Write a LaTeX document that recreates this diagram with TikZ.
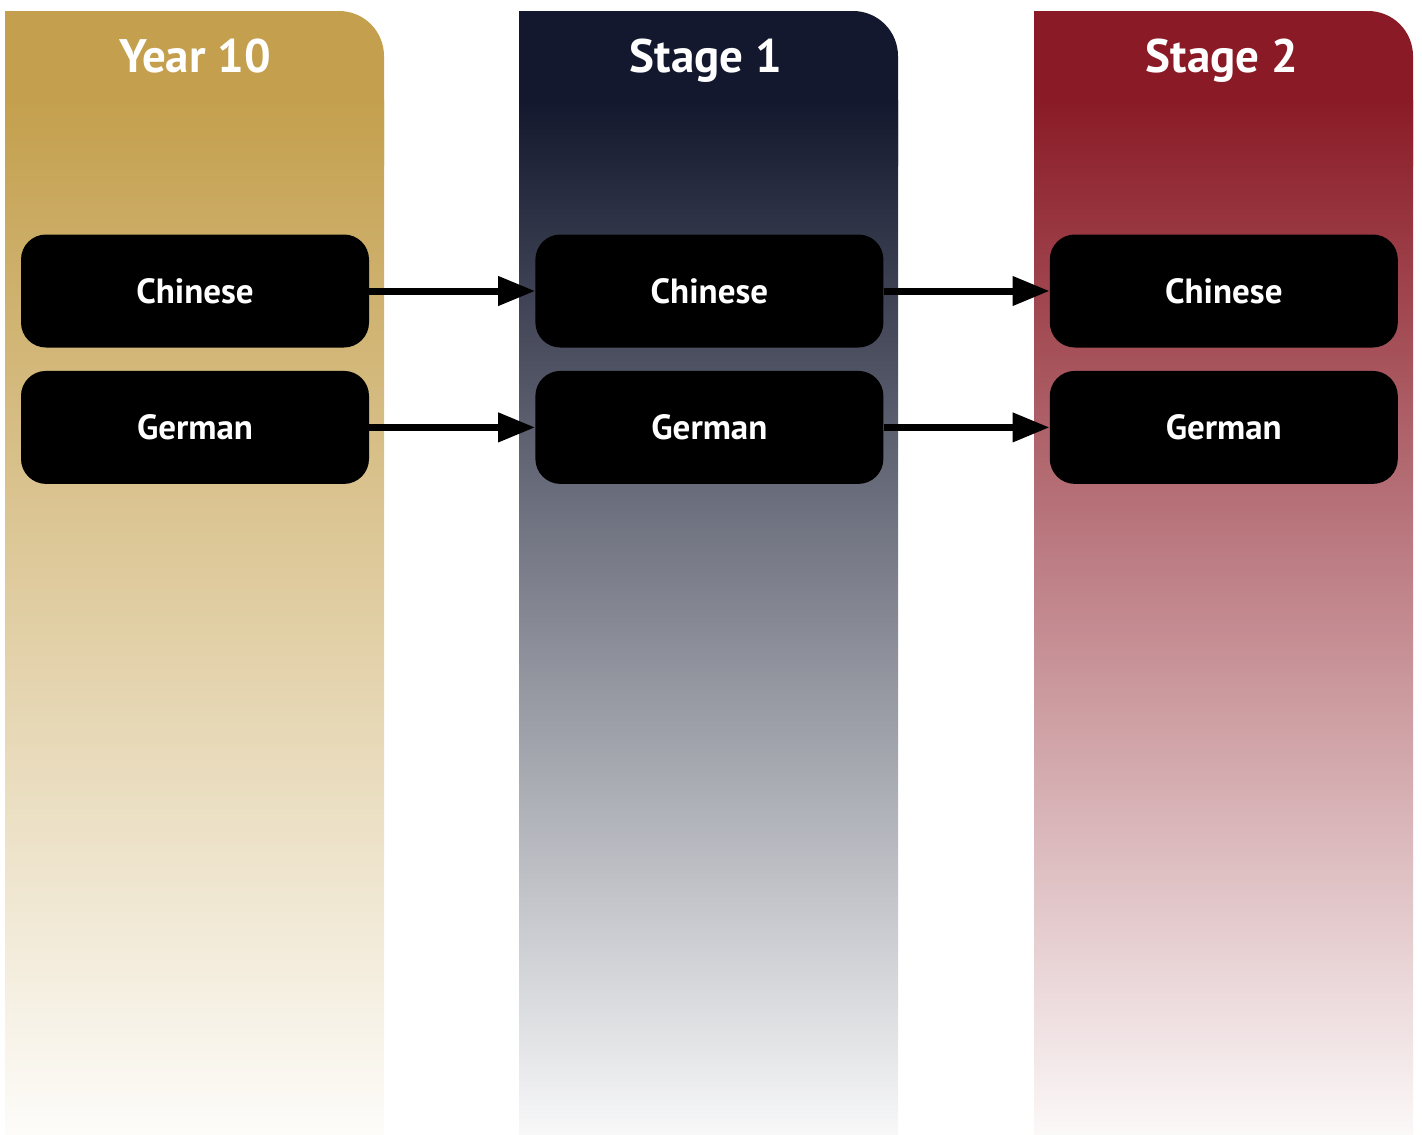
\documentclass[tikz,border=0pt]{standalone}
\usepackage{fontspec}
\setmainfont{PT Sans}
\usepackage{tikz}
\usetikzlibrary{arrows.meta, positioning}
\definecolor{colorYear}{HTML}{C4A04E}
\definecolor{colorStageOne}{HTML}{13182E}
\definecolor{colorStageTwo}{HTML}{8A1B26}
\tikzset{
  subject/.style={fill=black, text=white, rounded corners=25pt, minimum width=348pt, minimum height=113pt, inner sep=0pt, font=\fontsize{35}{42}\selectfont\bfseries},
  heading/.style={text=white, anchor=base, font=\fontsize{47}{56}\selectfont\bfseries},
  pathway/.style={-{Triangle[length=37pt,width=28pt]}, line width=7pt},
}

\begin{document}
\begin{tikzpicture}[x=1pt, y=-1pt, node distance=23pt and 166pt]
\useasboundingbox (0,0) rectangle (1422,1135);
% columns
\foreach \x/\col in {5/colorYear, 519/colorStageOne, 1034/colorStageTwo} {
  \fill[\col, rounded corners=45pt] (\x,11) rectangle ++(379,200);
  \fill[\col] (\x,11) rectangle ++(190,200);
  \shade[top color=\col, middle color=\col!55!white, bottom color=\col!3!white] (\x,100) rectangle ++(379,1035);
}
\node[heading] (year) at (195,72) {Year 10};
\node[heading] (stageA) at (706,72) {Stage 1};
\node[heading] (stageB) at (1222,72) {Stage 2};
\node[subject] (yearChinese) at (195,291) {Chinese};
\node[subject, below=of yearChinese] (yearGerman) {German};
\node[subject, right=of yearChinese] (oneChinese) {Chinese};
\node[subject, right=of yearGerman] (oneGerman) {German};
\node[subject, right=of oneChinese] (twoChinese) {Chinese};
\node[subject, right=of oneGerman] (twoGerman) {German};
\draw[pathway] (yearChinese) -- (oneChinese);
\draw[pathway] (yearGerman) -- (oneGerman);
\draw[pathway] (oneChinese) -- (twoChinese);
\draw[pathway] (oneGerman) -- (twoGerman);
\end{tikzpicture}
\end{document}
